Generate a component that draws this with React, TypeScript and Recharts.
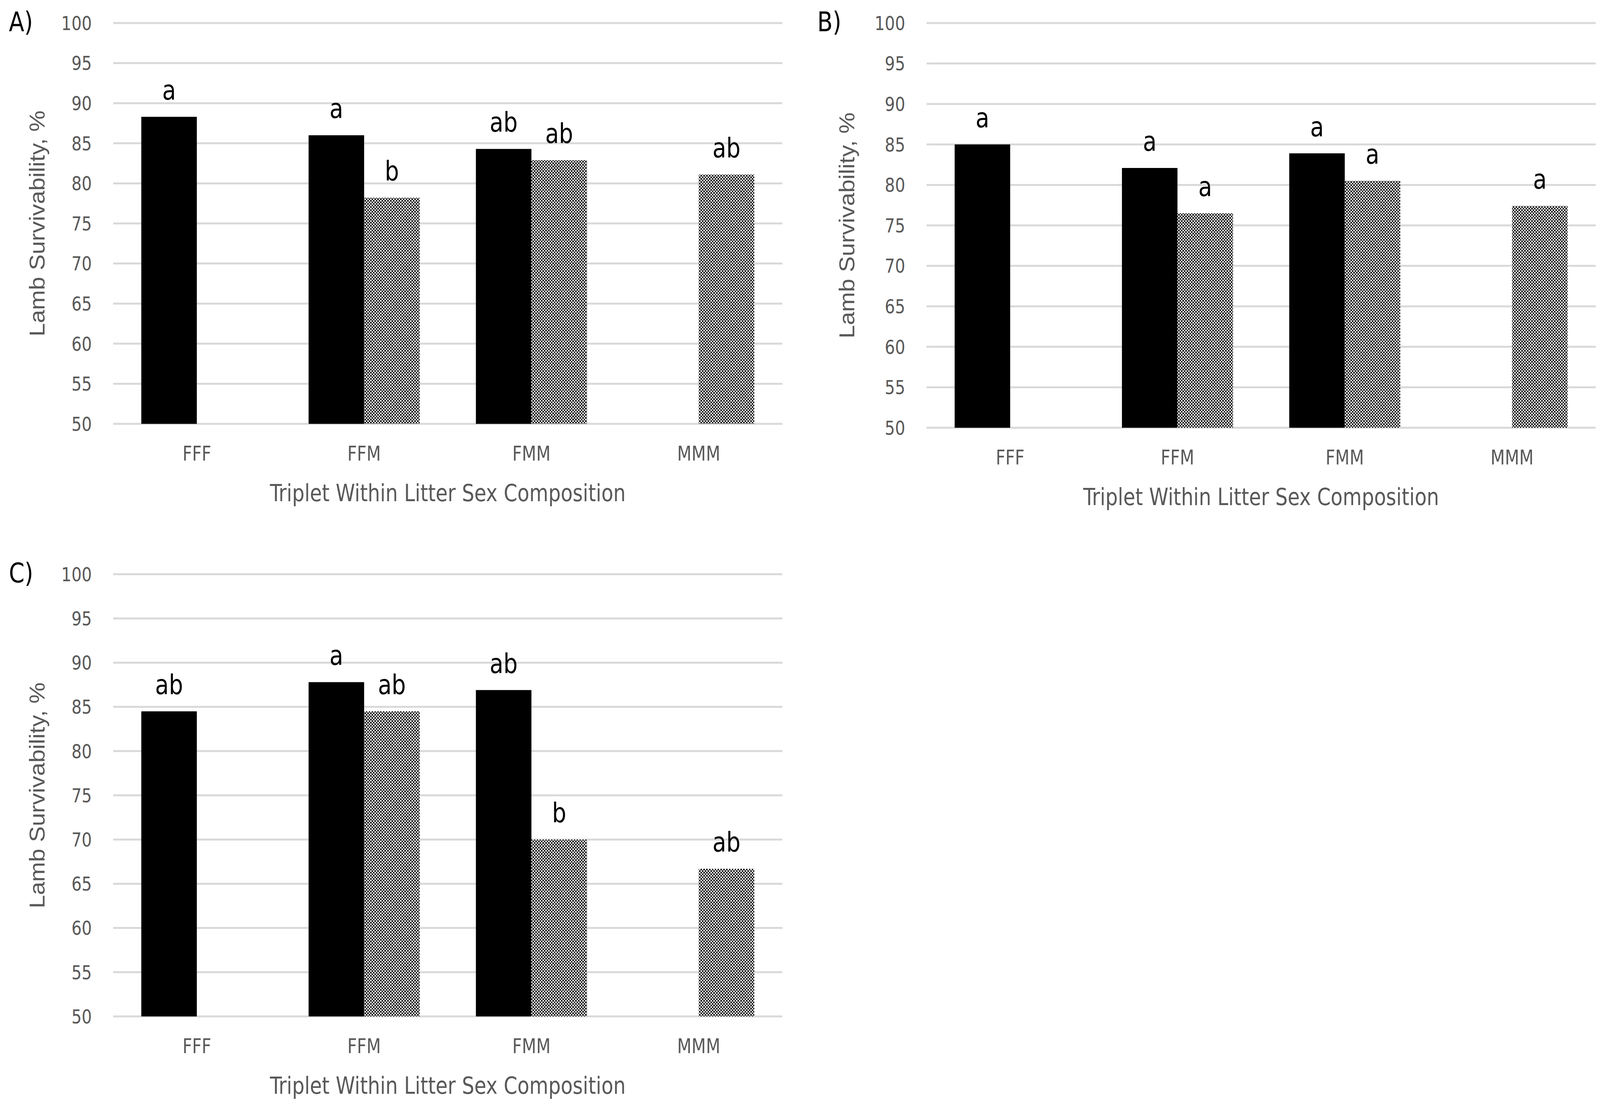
import { BarChart, Bar, XAxis, YAxis, CartesianGrid, LabelList, Label } from "recharts";

const categories = ["FFF", "FFM", "FMM", "MMM"];
const yTicks = [50, 55, 60, 65, 70, 75, 80, 85, 90, 95, 100];

// A)
const solidA = [88.3, 86.0, 84.3, null];
const dottedA = [null, 78.2, 82.9, 81.1];
const solidLettersA = ["a", "a", "ab", ""];
const dottedLettersA = ["", "b", "ab", "ab"];

// B)
const solidB = [85.0, 82.1, 83.9, null];
const dottedB = [null, 76.5, 80.5, 77.4];
const solidLettersB = ["a", "a", "a", ""];
const dottedLettersB = ["", "a", "a", "a"];

// C)
const solidC = [84.5, 87.8, 86.9, null];
const dottedC = [null, 84.5, 70.0, 66.7];
const solidLettersC = ["ab", "a", "ab", ""];
const dottedLettersC = ["", "ab", "b", "ab"];

const PAGE_W = 4495;
const PAGE_H = 2839;
const GRID = "#d9d9d9";
const GREY = "#595959";
const NARROW = "'Liberation Sans Narrow', 'DejaVu Sans Condensed', sans-serif";
const COND = "'DejaVu Sans Condensed', 'Liberation Sans Narrow', sans-serif";
const AXIS_H = 198;

function renderLetter(props: any) {
  const { x, y, width, value } = props;
  if (!value || y == null || isNaN(y)) return null;
  return (
    <text
      x={x + width / 2}
      y={y - 44}
      textAnchor="middle"
      fontSize={70}
      fontFamily={NARROW}
      fill="#000"
    >
      {value}
    </text>
  );
}

function Panel(props: any) {
  const {
    id, left, top, width, height, plotLeft, plotRight, plotTop, plotBottom, yLabelX,
    solid, dotted, solidLetters, dottedLetters,
  } = props;

  const rows = categories.map((c, i) => ({
    name: c,
    solid: solid[i],
    dotted: dotted[i],
    solidLetter: solidLetters[i],
    dottedLetter: dottedLetters[i],
  }));

  return (
    <div style={{ position: "absolute", left, top, width, height }}>
      <BarChart
        width={width}
        height={height}
        data={rows}
        margin={{
          top: plotTop - top,
          right: left + width - plotRight,
          bottom: top + height - plotBottom - AXIS_H,
          left: 0,
        }}
        barCategoryGap="16.8%"
        barGap={0}
      >
        <defs>
          <pattern id={id} width={8} height={8} patternUnits="userSpaceOnUse">
            <rect width={8} height={8} fill="#fff" />
            <rect width={4} height={4} fill="#000" />
            <rect x={4} y={4} width={4} height={4} fill="#000" />
          </pattern>
        </defs>
        <CartesianGrid vertical={false} stroke={GRID} strokeWidth={5} />
        <XAxis
          dataKey="name"
          height={AXIS_H}
          axisLine={false}
          tickLine={false}
          tickSize={0}
          tickMargin={57}
          tick={{ fontSize: 52, fill: GREY, fontFamily: COND }}
        >
          <Label
            value="Triplet Within Litter Sex Composition"
            position="insideBottom"
            offset={0}
            fontSize={61}
            fill={GREY}
            fontFamily={COND}
          />
        </XAxis>
        <YAxis
          type="number"
          domain={[50, 100]}
          ticks={yTicks}
          width={plotLeft - left}
          axisLine={false}
          tickLine={false}
          tickSize={0}
          tickMargin={60}
          tick={{ fontSize: 50, fill: GREY, fontFamily: COND }}
        >
          <Label
            value="Lamb Survivability, %"
            angle={-90}
            position="insideLeft"
            offset={yLabelX - left}
            style={{ textAnchor: "middle" }}
            fontSize={61}
            fill={GREY}
            fontFamily="'Liberation Sans', Arial, sans-serif"
          />
        </YAxis>
        <Bar dataKey="solid" fill="#000" isAnimationActive={false}>
          <LabelList dataKey="solidLetter" content={renderLetter} />
        </Bar>
        <Bar dataKey="dotted" fill={`url(#${id})`} isAnimationActive={false}>
          <LabelList dataKey="dottedLetter" content={renderLetter} />
        </Bar>
      </BarChart>
    </div>
  );
}

export default function App() {
  // the browser viewport can be narrower than the figure; squeeze it to fit
  const sx = Math.min(1, window.innerWidth / PAGE_W);
  return (
    <div
      style={{
        position: "absolute",
        left: 0,
        top: 0,
        width: PAGE_W,
        height: PAGE_H,
        background: "#fff",
        fontFamily: COND,
        transform: `scaleX(${sx})`,
        transformOrigin: "0 0",
      }}
    >
      <Panel
        id="dotsA"
        left={0}
        top={0}
        width={2250}
        height={1300}
        plotLeft={318}
        plotRight={2198}
        plotTop={59}
        plotBottom={1085}
        yLabelX={103}
        solid={solidA}
        dotted={dottedA}
        solidLetters={solidLettersA}
        dottedLetters={dottedLettersA}
      />
      <Panel
        id="dotsB"
        left={2250}
        top={0}
        width={2245}
        height={1310}
        plotLeft={2603}
        plotRight={4483}
        plotTop={59}
        plotBottom={1095}
        yLabelX={2378}
        solid={solidB}
        dotted={dottedB}
        solidLetters={solidLettersB}
        dottedLetters={dottedLettersB}
      />
      <Panel
        id="dotsC"
        left={0}
        top={1400}
        width={2250}
        height={1420}
        plotLeft={318}
        plotRight={2198}
        plotTop={1470}
        plotBottom={2602}
        yLabelX={103}
        solid={solidC}
        dotted={dottedC}
        solidLetters={solidLettersC}
        dottedLetters={dottedLettersC}
      />
      <svg
        width={PAGE_W}
        height={PAGE_H}
        style={{ position: "absolute", left: 0, top: 0, pointerEvents: "none" }}
      >
        <text x={25} y={80} fontSize={70} fontFamily={NARROW} fill="#000">A)</text>
        <text x={2296} y={80} fontSize={70} fontFamily={NARROW} fill="#000">B)</text>
        <text x={25} y={1491} fontSize={70} fontFamily={NARROW} fill="#000">C)</text>
      </svg>
    </div>
  );
}
